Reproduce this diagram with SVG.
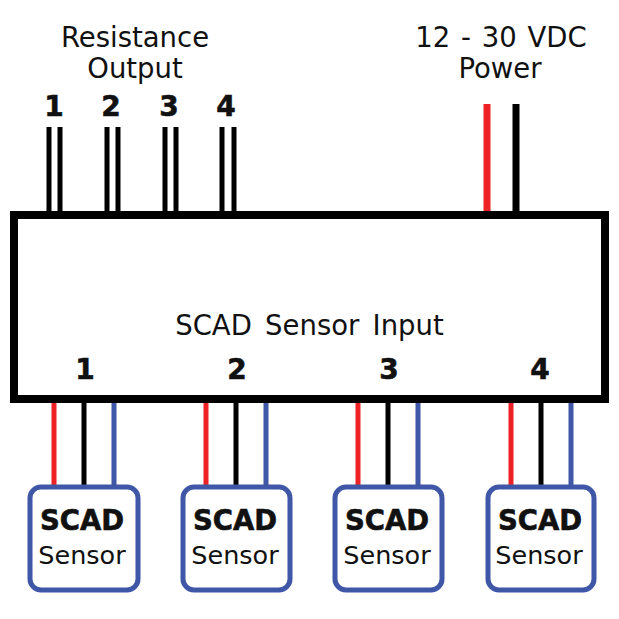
<svg xmlns="http://www.w3.org/2000/svg" width="619" height="619" viewBox="0 0 619 619">
<style>
text{font-family:"DejaVu Sans",Verdana,sans-serif;fill:#111;text-anchor:middle}
.t{font-size:27.5px;word-spacing:2px}
.n{font-size:28px;font-weight:bold;stroke:#111;stroke-width:.6px}
.b{font-size:27.5px;font-weight:bold;stroke:#111;stroke-width:.6px}
.s{font-size:25.5px}
.w{fill:none;stroke-width:5}
.k{stroke:#000}.r{stroke:#ee2224}.u{stroke:#3f57a6}
.box{fill:#fff;stroke:#3f57a6;stroke-width:5}
</style>
<rect width="619" height="619" fill="#fff"/>
<g id="connectors">
<path class="w k" d="M49 127V214M60 127V214M107 127V214M118 127V214M165 127V214M176 127V214M222 127V214M234 127V214"/>
<path class="r" fill="none" stroke-width="7" d="M487 104V214"/>
<path class="k" fill="none" stroke-width="7" d="M516 104V214"/>
<path class="w r" d="M54 400V487M206 400V487M358 400V487M511 400V487"/>
<path class="w k" d="M84 400V487M236 400V487M388 400V487M541 400V487"/>
<path class="w u" d="M114 400V487M266 400V487M418 400V487M571 400V487"/>
</g>
<g id="module">
<rect x="14" y="215" width="591" height="184" fill="none" stroke="#000" stroke-width="8"/>
<text class="t" x="309.500" y="335" style="word-spacing:4.500px">SCAD Sensor Input</text>
<text class="n" x="85" y="379">1</text>
<text class="n" x="237" y="379">2</text>
<text class="n" x="389" y="379">3</text>
<text class="n" x="540" y="379">4</text>
</g>
<g id="output-labels">
<text class="t" x="135" y="47">Resistance</text>
<text class="t" x="135" y="78">Output</text>
<text class="n" x="54" y="116">1</text>
<text class="n" x="111" y="116">2</text>
<text class="n" x="169" y="116">3</text>
<text class="n" x="226" y="116">4</text>
</g>
<g id="power-labels">
<text class="t" x="501" y="47">12 - 30 VDC</text>
<text class="t" x="500" y="78">Power</text>
</g>
<g id="sensor1"><rect class="box" x="30" y="487" width="108" height="103" rx="11"/><text class="b" x="82" y="530">SCAD</text><text class="s" x="82" y="564">Sensor</text></g>
<g id="sensor2"><rect class="box" x="183" y="487" width="107" height="103" rx="11"/><text class="b" x="235" y="530">SCAD</text><text class="s" x="235" y="564">Sensor</text></g>
<g id="sensor3"><rect class="box" x="335" y="487" width="107" height="103" rx="11"/><text class="b" x="387" y="530">SCAD</text><text class="s" x="387" y="564">Sensor</text></g>
<g id="sensor4"><rect class="box" x="488" y="487" width="106" height="103" rx="11"/><text class="b" x="540" y="530">SCAD</text><text class="s" x="539" y="564">Sensor</text></g>
</svg>
